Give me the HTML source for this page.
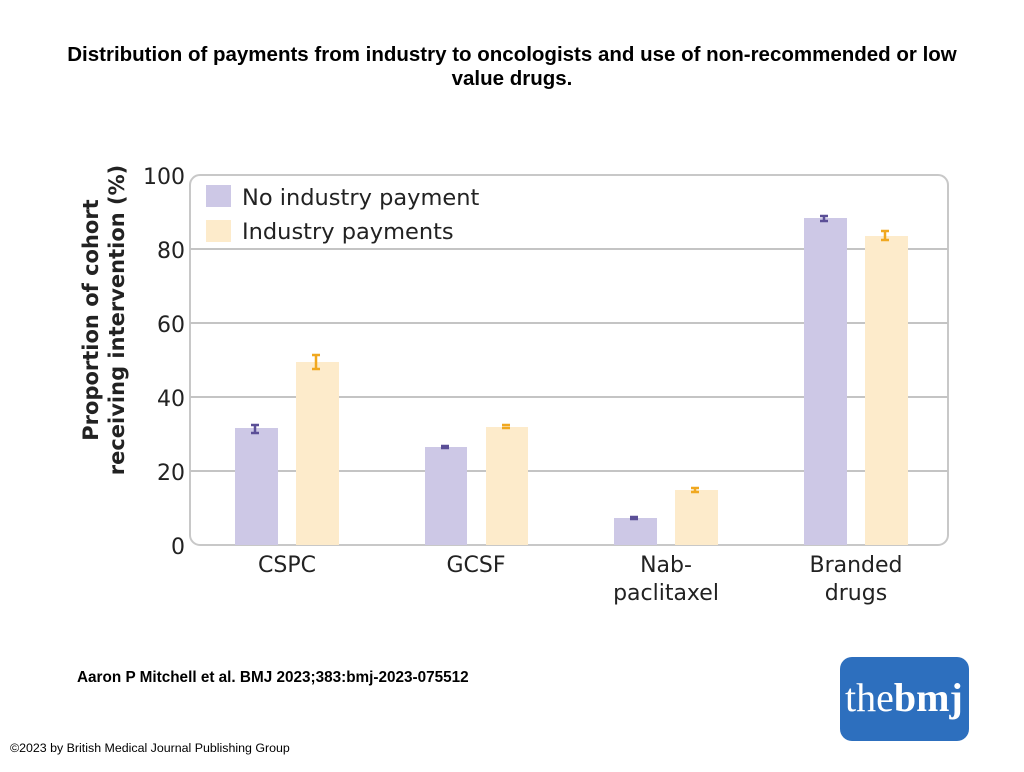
<!DOCTYPE html>
<html><head><style>
body{margin:0;background:#fff;width:1024px;height:767px;overflow:hidden;font-family:"Liberation Sans",sans-serif;}
</style></head><body>
<svg width="1024" height="767" xmlns="http://www.w3.org/2000/svg">
<text x="512" y="61" text-anchor="middle" font-family="Liberation Sans" font-weight="bold" font-size="20.5">Distribution of payments from industry to oncologists and use of non-recommended or low</text>
<text x="512" y="85" text-anchor="middle" font-family="Liberation Sans" font-weight="bold" font-size="20.5">value drugs.</text>
<rect x="190" y="175" width="758" height="370" rx="10" fill="#fff" stroke="#c8c8c8" stroke-width="2"/>
<g stroke="#c4c4c4" stroke-width="2">
<line x1="190" y1="249" x2="948" y2="249"/><line x1="190" y1="323" x2="948" y2="323"/>
<line x1="190" y1="397" x2="948" y2="397"/><line x1="190" y1="471" x2="948" y2="471"/>
</g>
<g font-family="DejaVu Sans" font-size="22" fill="#222" text-anchor="end">
<text x="185" y="184">100</text><text x="185" y="258">80</text><text x="185" y="332">60</text><text x="185" y="406">40</text><text x="185" y="480">20</text><text x="185" y="554">0</text>
</g>
<text transform="translate(98,320) rotate(-90)" text-anchor="middle" font-family="DejaVu Sans" font-weight="bold" font-size="21" fill="#222">Proportion of cohort</text>
<text transform="translate(124,320) rotate(-90)" text-anchor="middle" font-family="DejaVu Sans" font-weight="bold" font-size="21" fill="#222">receiving intervention (%)</text>
<rect x="206" y="185" width="25" height="22" fill="#cdc8e6"/>
<text x="242" y="205" font-family="DejaVu Sans" font-size="22.5" fill="#222">No industry payment</text>
<rect x="206" y="220" width="25" height="22" fill="#fdebcb"/>
<text x="242" y="239" font-family="DejaVu Sans" font-size="22.5" fill="#222">Industry payments</text>
<g fill="#cdc8e6">
<rect x="235" y="428" width="43" height="117"/><rect x="425" y="447" width="42" height="98"/>
<rect x="614" y="518" width="43" height="27"/><rect x="804" y="218" width="43" height="327"/>
</g>
<g fill="#fdebcb">
<rect x="296" y="362" width="43" height="183"/><rect x="486" y="427" width="42" height="118"/>
<rect x="675" y="490" width="43" height="55"/><rect x="865" y="236" width="43" height="309"/>
</g>
<g stroke="#5b4f97" stroke-width="2.5" fill="none">
<path d="M251 425h8M251 433h8M255 425v8"/><path d="M441 446h8M441 448h8"/><path d="M630 517h8M630 519h8"/><path d="M820 216h8M820 221h8M824 216v5"/>
</g>
<g stroke="#f0a820" stroke-width="2.5" fill="none">
<path d="M312 355h8M312 369h8M316 355v14"/><path d="M502 425h8M502 428h8"/><path d="M691 488h8M691 492h8M695 488v4"/><path d="M881 231h8M881 240h8M885 231v9"/>
</g>
<g font-family="DejaVu Sans" font-size="22" fill="#222" text-anchor="middle">
<text x="287" y="572">CSPC</text><text x="476" y="572">GCSF</text>
<text x="666" y="572">Nab-</text><text x="666" y="600">paclitaxel</text>
<text x="856" y="572">Branded</text><text x="856" y="600">drugs</text>
</g>
<text x="77" y="682" font-family="Liberation Sans" font-weight="bold" font-size="15.3">Aaron P Mitchell et al. BMJ 2023;383:bmj-2023-075512</text>
<text x="10" y="752" font-family="Liberation Sans" font-size="12.4">©2023 by British Medical Journal Publishing Group</text>
<rect x="840" y="657" width="129" height="84" rx="12" fill="#2d6fbe"/>
<text x="845" y="711" font-family="Liberation Serif" font-size="40" fill="#fff">the<tspan font-weight="bold">bmj</tspan></text>
</svg>
</body></html>
